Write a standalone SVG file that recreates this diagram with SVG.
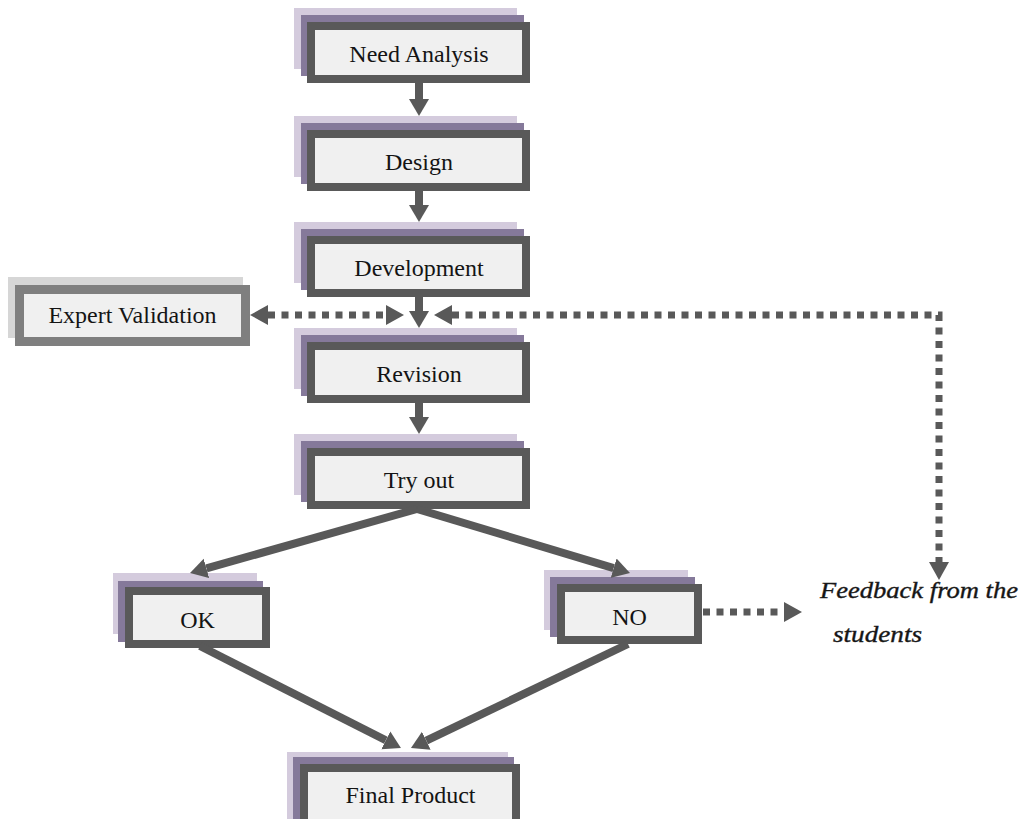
<svg xmlns="http://www.w3.org/2000/svg" width="1027" height="819" viewBox="0 0 1027 819">
<style>
.l{fill:#d4cbdd}
.m{fill:#85799a}
.b{fill:#f0f0f0;stroke:#595959;stroke-width:8}
.eb{fill:#f0f0f0;stroke:#7f7f7f;stroke-width:9}
.es{fill:#d6d6d6}
.t{font-family:"Liberation Serif","Times New Roman",serif;font-size:24px;fill:#141414;text-anchor:middle}
.s{fill:none;stroke:#595959;stroke-width:8}
.d{fill:none;stroke:#595959;stroke-width:7;stroke-dasharray:7 6.5}
.f{font-family:"Liberation Serif","Times New Roman",serif;font-size:24px;font-style:italic;fill:#141414;stroke:#222;stroke-width:0.4}
</style>
<defs>
<marker id="ah" markerUnits="userSpaceOnUse" viewBox="0 -11 18 22" refX="0" refY="0" markerWidth="18" markerHeight="22" orient="auto">
<path d="M0,-10 L17,0 L0,10 z" fill="#595959"/>
</marker>
<marker id="dh" markerUnits="userSpaceOnUse" viewBox="0 -11 19 22" refX="0" refY="0" markerWidth="19" markerHeight="22" orient="auto-start-reverse">
<path d="M0,-10 L18,0 L0,10 z" fill="#595959"/>
</marker>
</defs>

<g id="need-analysis">
<rect class="l" x="294" y="8" width="223" height="61"/>
<rect class="m" x="301" y="15" width="223" height="61"/>
<rect class="b" x="311" y="26" width="215" height="53"/>
<text class="t" x="419" y="61.5">Need Analysis</text>
</g>
<g id="design">
<rect class="l" x="294" y="116" width="223" height="61"/>
<rect class="m" x="301" y="123" width="223" height="61"/>
<rect class="b" x="311" y="134" width="215" height="53"/>
<text class="t" x="419" y="169.5">Design</text>
</g>
<g id="development">
<rect class="l" x="294" y="222" width="223" height="61"/>
<rect class="m" x="301" y="229" width="223" height="61"/>
<rect class="b" x="311" y="240" width="215" height="53"/>
<text class="t" x="419" y="275.5">Development</text>
</g>
<g id="expert-validation">
<rect class="es" x="8" y="277" width="235" height="61"/>
<rect class="eb" x="19.5" y="289.5" width="226" height="52"/>
<text class="t" x="132.5" y="323">Expert Validation</text>
</g>
<g id="revision">
<rect class="l" x="294" y="328" width="223" height="61"/>
<rect class="m" x="301" y="335" width="223" height="61"/>
<rect class="b" x="311" y="346" width="215" height="53"/>
<text class="t" x="419" y="381.5">Revision</text>
</g>
<g id="try-out">
<rect class="l" x="294" y="434" width="223" height="61"/>
<rect class="m" x="301" y="441" width="223" height="61"/>
<rect class="b" x="311" y="452" width="215" height="53"/>
<text class="t" x="419" y="487.5">Try out</text>
</g>
<g id="ok">
<rect class="l" x="113" y="573" width="144" height="61"/>
<rect class="m" x="118" y="581" width="145" height="61"/>
<rect class="b" x="129" y="591" width="137" height="53"/>
<text class="t" x="197.5" y="628">OK</text>
</g>
<g id="no">
<rect class="l" x="544" y="570" width="144" height="60"/>
<rect class="m" x="550" y="577" width="145" height="60"/>
<rect class="b" x="561" y="588" width="137" height="52"/>
<text class="t" x="629.5" y="625">NO</text>
</g>
<g id="feedback">
<text class="f" x="820" y="598" textLength="198" lengthAdjust="spacingAndGlyphs">Feedback from the</text>
<text class="f" x="833" y="642" textLength="89" lengthAdjust="spacingAndGlyphs">students</text>
</g>
<g id="final-product">
<rect class="l" x="287" y="752" width="221" height="70"/>
<rect class="m" x="293" y="757" width="221" height="70"/>
<rect class="b" x="304" y="768" width="212" height="60"/>
<text class="t" x="410.5" y="803">Final Product</text>
</g>

<g id="connectors">
<line class="s" x1="419" y1="83" x2="419" y2="99" marker-end="url(#ah)"/>
<line class="s" x1="419" y1="191" x2="419" y2="205" marker-end="url(#ah)"/>
<line class="s" x1="419" y1="297" x2="419" y2="311" marker-end="url(#ah)"/>
<line class="s" x1="419" y1="403" x2="419" y2="417" marker-end="url(#ah)"/>
<line class="s" x1="417" y1="509" x2="206.4" y2="568.4" marker-end="url(#ah)"/>
<line class="s" x1="417" y1="509" x2="613.7" y2="568.1" marker-end="url(#ah)"/>
<line class="s" x1="200" y1="646" x2="385.8" y2="740.3" marker-end="url(#ah)"/>
<line class="s" x1="628" y1="644" x2="426.3" y2="740.7" marker-end="url(#ah)"/>
<path class="d" d="M268,315 H386" marker-start="url(#dh)" marker-end="url(#dh)"/>
<path class="d" d="M452,315 H939 V562" marker-start="url(#dh)" marker-end="url(#dh)"/>
<path class="d" d="M703,612 H784" marker-end="url(#dh)"/>
</g>
</svg>
